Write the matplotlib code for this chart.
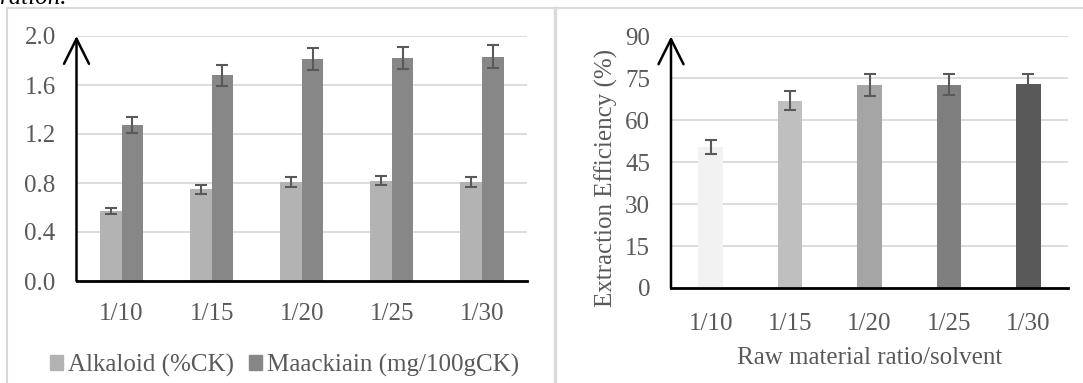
import matplotlib
matplotlib.use("Agg")
import matplotlib.pyplot as plt
from matplotlib.patches import Patch
from matplotlib.lines import Line2D
import numpy as np

plt.rcParams['font.family'] = ['Liberation Serif', 'DejaVu Serif']
plt.rcParams['font.size'] = 18

ratios = ['1/10', '1/15', '1/20', '1/25', '1/30']

# left panel: content of the two compounds
alkaloid = [0.57, 0.75, 0.81, 0.82, 0.81]
alkaloid_err = [0.025, 0.037, 0.04, 0.04, 0.04]
maackiain = [1.27, 1.68, 1.81, 1.82, 1.83]
maackiain_err = [0.065, 0.085, 0.09, 0.09, 0.095]

# right panel: extraction efficiency (%)
efficiency = [50.5, 67.0, 72.6, 72.7, 72.9]
efficiency_err = [2.6, 3.4, 3.8, 3.8, 3.7]
eff_colors = ['#f2f2f2', '#bfbfbf', '#a5a5a5', '#7f7f7f', '#595959']

W, H = 1083, 383
fig = plt.figure(figsize=(W / 100, H / 100), dpi=100)

txt = '#595959'
grid = '#d9d9d9'
ebar = dict(ecolor='#595959', elinewidth=1.5, capsize=4.5, capthick=1.5)


def px_axes(x0, x1, ytop, ybot):
    return fig.add_axes([x0 / W, 1 - ybot / H, (x1 - x0) / W, (ybot - ytop) / H])


def style(ax, ticks, ymax, xpad):
    ax.set_ylim(0, ymax)
    ax.set_yticks(ticks)
    ax.set_xlim(-0.5, 4.5)
    ax.set_xticks(range(len(ratios)))
    ax.set_xticklabels(ratios)
    ax.tick_params(length=0, colors=txt, labelsize=18)
    ax.tick_params(axis='x', pad=xpad)
    ax.tick_params(axis='y', pad=15)
    for s in ['left', 'right', 'top']:
        ax.spines[s].set_visible(False)
    ax.spines['bottom'].set_color('black')
    ax.spines['bottom'].set_linewidth(2)
    ax.grid(axis='y', color=grid, lw=1.3)
    ax.set_axisbelow(True)
    ax.patch.set_alpha(0)
    # vertical axis drawn as an arrow
    ax.annotate('', xy=(0, 1), xytext=(0, 0), xycoords='axes fraction',
                arrowprops=dict(arrowstyle='->,head_length=1.0,head_width=0.5',
                                color='black', lw=1.8, shrinkA=0, shrinkB=0))


# panel frames
fig.add_artist(Line2D([7 / W, 1], [1 - 8 / H] * 2, color=grid, lw=1.5))
fig.add_artist(Line2D([7 / W] * 2, [0, 1 - 8 / H], color=grid, lw=1.5))
fig.add_artist(Line2D([555 / W] * 2, [0, 1 - 8 / H], color=grid, lw=2.5))

# cut-off caption line above the panels
fig.text(0, 1 - 4 / H, 'ration.', style='italic', color='black', fontsize=18,
         va='baseline', ha='left')

# left chart
ax1 = px_axes(76.5, 527, 36, 281)
x = np.arange(len(ratios))
w = 0.24
ax1.bar(x - w / 2, alkaloid, w, color='#b3b3b3', yerr=alkaloid_err, error_kw=ebar, zorder=2)
ax1.bar(x + w / 2, maackiain, w, color='#878787', yerr=maackiain_err, error_kw=ebar, zorder=2)
style(ax1, np.arange(0, 2.01, 0.4), 2.0, 16)
ax1.yaxis.set_major_formatter(matplotlib.ticker.FormatStrFormatter('%.1f'))

handles = [Patch(color='#b3b3b3', label='Alkaloid (%CK)'),
           Patch(color='#878787', label='Maackiain (mg/100gCK)')]
fig.legend(handles=handles, loc='center', bbox_to_anchor=(285 / W, 1 - 365 / H),
           ncol=2, frameon=False, handlelength=0.52, handleheight=0.52,
           handletextpad=0.2, columnspacing=0.6, labelcolor=txt, fontsize=18)

# right chart
ax2 = px_axes(671, 1068, 36.4, 288)
ax2.bar(x, efficiency, 0.31, color=eff_colors, yerr=efficiency_err, error_kw=ebar, zorder=2)
style(ax2, np.arange(0, 91, 15), 90, 18)
ax2.set_ylabel('Extraction Efficiency (%)', color=txt, fontsize=18)
ax2.yaxis.set_label_coords(-0.164, 0.437)
ax2.yaxis.label.set_va('center')
fig.text(870 / W, 1 - 358 / H, 'Raw material ratio/solvent', color=txt,
         fontsize=18, ha='center', va='center')

fig.savefig('out.png', dpi=100)
